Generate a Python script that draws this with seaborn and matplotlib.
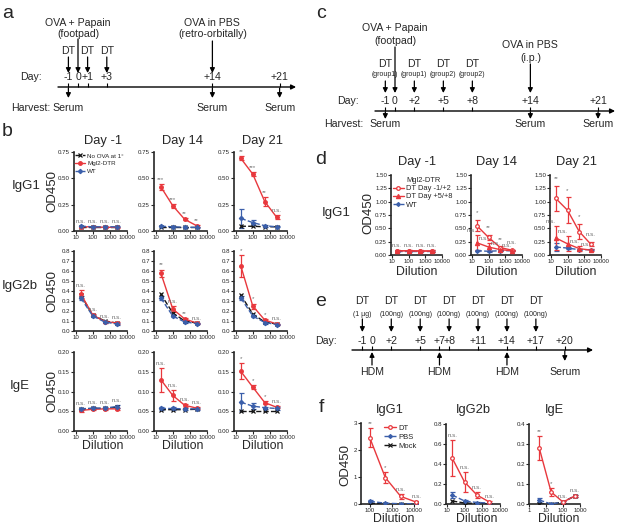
import numpy as np
import matplotlib
matplotlib.use("Agg")
import matplotlib.pyplot as plt
from matplotlib.lines import Line2D
from matplotlib.ticker import NullLocator
import seaborn as sns

sns.set_style("ticks")
plt.rcParams['font.family'] = ['Liberation Sans', 'DejaVu Sans']

W, H = 617, 526
RED = "#e8383d"
BLUE = "#3b5faa"
BLACK = "#151515"
GREY = "#6e6e6e"

# ---------------- timelines (days) ----------------
a_days = [-1, 0, 1, 3, 14, 21]
a_day_labels = ["-1", "0", "+1", "+3", "+14", "+21"]
a_dt_days = [-1, 1, 3]
a_harvest_days = [-1, 14, 21]

c_days = [-1, 0, 2, 5, 8, 14, 21]
c_day_labels = ["-1", "0", "+2", "+5", "+8", "+14", "+21"]
c_dt_days = [-1, 2, 5, 8]
c_dt_groups = ["(group1)", "(group1)", "(group2)", "(group2)"]
c_harvest_days = [-1, 14, 21]

e_days = [-1, 0, 2, 5, 7, 8, 11, 14, 17, 20]
e_day_labels = ["-1", "0", "+2", "+5", "+7", "+8", "+11", "+14", "+17", "+20"]
e_dt_days = [-1, 2, 5, 8, 11, 14, 17]
e_dt_doses = ["(1 µg)", "(100ng)", "(100ng)", "(100ng)", "(100ng)", "(100ng)", "(100ng)"]
e_hdm_days = [0, 7, 14]
e_serum_day = 20

# ---------------- panel b (dilution 1:20 .. 1:2500) ----------------
b_dil = [20, 100, 500, 2500]
b_cols = ["Day -1", "Day 14", "Day 21"]
b_rows = ["IgG1", "IgG2b", "IgE"]

igg1_noova = [[0.04, 0.04, 0.04, 0.04], [0.04, 0.04, 0.04, 0.04], [0.045, 0.045, 0.04, 0.04]]
igg1_dtr = [[0.04, 0.04, 0.035, 0.035], [0.42, 0.24, 0.11, 0.05], [0.69, 0.54, 0.28, 0.13]]
igg1_dtr_err = [[0.005, 0.005, 0.005, 0.005], [0.03, 0.02, 0.01, 0.01], [0.02, 0.02, 0.04, 0.02]]
igg1_wt = [[0.045, 0.04, 0.04, 0.04], [0.045, 0.04, 0.035, 0.035], [0.12, 0.08, 0.05, 0.04]]
igg1_wt_err = [[0.005, 0.005, 0.005, 0.005], [0.005, 0.005, 0.005, 0.005], [0.09, 0.02, 0.01, 0.005]]
igg1_marks = [["n.s.", "n.s.", "n.s.", "n.s."], ["***", "***", "**", "**"], ["**", "***", "**", "n.s."]]

igg2b_noova = [[0.36, 0.16, 0.10, 0.08], [0.37, 0.18, 0.10, 0.08], [0.36, 0.17, 0.09, 0.07]]
igg2b_dtr = [[0.37, 0.16, 0.095, 0.08], [0.58, 0.22, 0.12, 0.08], [0.65, 0.25, 0.11, 0.07]]
igg2b_dtr_err = [[0.04, 0.01, 0.01, 0.01], [0.035, 0.03, 0.01, 0.005], [0.11, 0.025, 0.01, 0.005]]
igg2b_wt = [[0.33, 0.15, 0.09, 0.07], [0.33, 0.15, 0.09, 0.075], [0.33, 0.15, 0.085, 0.065]]
igg2b_wt_err = [[0.02, 0.01, 0.01, 0.01], [0.02, 0.01, 0.01, 0.005], [0.02, 0.01, 0.01, 0.005]]
igg2b_marks = [["n.s.", "n.s.", "n.s.", "n.s."], ["**", "n.s.", "**", "n.s."], ["*", "*", "*", "n.s."]]

ige_noova = [[0.055, 0.057, 0.057, 0.06], [0.054, 0.054, 0.054, 0.055], [0.05, 0.05, 0.05, 0.05]]
ige_dtr = [[0.052, 0.055, 0.056, 0.056], [0.13, 0.09, 0.065, 0.058], [0.151, 0.111, 0.072, 0.06]]
ige_dtr_err = [[0.003, 0.003, 0.003, 0.003], [0.03, 0.013, 0.004, 0.003], [0.02, 0.005, 0.003, 0.003]]
ige_wt = [[0.056, 0.058, 0.058, 0.062], [0.057, 0.057, 0.056, 0.056], [0.073, 0.063, 0.059, 0.057]]
ige_wt_err = [[0.003, 0.003, 0.003, 0.003], [0.003, 0.003, 0.003, 0.003], [0.022, 0.008, 0.003, 0.003]]
ige_marks = [["n.s.", "n.s.", "n.s.", "n.s."], ["n.s.", "n.s.", "n.s.", "n.s."], ["*", "*", "*", "n.s."]]

# ---------------- panel d ----------------
d_dil = [20, 100, 500, 2500]
d_early = [[0.08, 0.08, 0.075, 0.075], [0.55, 0.33, 0.14, 0.09], [1.06, 0.84, 0.44, 0.2]]
d_early_err = [[0.01, 0.01, 0.01, 0.01], [0.1, 0.04, 0.02, 0.01], [0.24, 0.24, 0.14, 0.04]]
d_late = [[0.08, 0.08, 0.075, 0.075], [0.23, 0.15, 0.1, 0.08], [0.32, 0.21, 0.12, 0.09]]
d_late_err = [[0.01, 0.01, 0.01, 0.01], [0.14, 0.08, 0.03, 0.01], [0.23, 0.14, 0.04, 0.02]]
d_wt = [[0.07, 0.07, 0.07, 0.07], [0.08, 0.07, 0.08, 0.08], [0.15, 0.13, 0.1, 0.1]]
d_wt_err = [[0.005, 0.005, 0.005, 0.005], [0.01, 0.01, 0.01, 0.01], [0.08, 0.02, 0.01, 0.01]]
d_early_marks = [["n.s.", "n.s.", "n.s.", "n.s."], ["*", "**", "**", "n.s."], ["**", "*", "*", "n.s."]]
d_late_marks = [["", "", "", ""], ["n.s.", "n.s.", "n.s.", "n.s."], ["n.s.", "n.s.", "n.s.", "n.s."]]

# ---------------- panel f ----------------
f_titles = ["IgG1", "IgG2b", "IgE"]
f_dil = [[100, 500, 2500, 12500], [20, 100, 500, 2500], [4, 20, 100, 500]]
f_dt = [[2.45, 0.98, 0.28, 0.07], [0.46, 0.22, 0.09, 0.02], [0.28, 0.06, 0.01, 0.04]]
f_dt_err = [[0.35, 0.22, 0.1, 0.03], [0.18, 0.1, 0.03, 0.01], [0.06, 0.02, 0.003, 0.005]]
f_pbs = [[0.1, 0.03, 0.01, 0.01], [0.09, 0.03, 0.015, 0.01], [0.02, 0.0, 0.01, 0.04]]
f_pbs_err = [[0.03, 0.01, 0.005, 0.005], [0.03, 0.01, 0.005, 0.003], [0.01, 0.003, 0.003, 0.005]]
f_mock = [[0.02, 0.01, 0.0, 0.0], [0.03, 0.01, 0.005, 0.0], [0.0, 0.0, 0.01, 0.04]]
f_marks = [["**", "*", "n.s.", "n.s."], ["n.s.", "n.s.", "n.s.", "n.s."], ["**", "*", "n.s.", "n.s."]]

fig = plt.figure(figsize=(W / 100, H / 100), dpi=100)


def rect(l, t, r, b):
    return [l / W, 1 - b / H, (r - l) / W, (b - t) / H]


def ftext(x, y, s, **kw):
    kw.setdefault("ha", "center")
    kw.setdefault("va", "center")
    fig.text(x / W, 1 - y / H, s, **kw)


# ---------- timeline helpers ----------
def timeline(x0, x1, y0, y1, day0_px, px_day):
    ax = fig.add_axes(rect(x0, y0, x1, y1))
    ax.set_xlim((x0 - day0_px) / px_day, (x1 - day0_px) / px_day)
    ax.set_ylim(y1, y0)
    ax.axis("off")
    return ax


def arrow(ax, x0, y0, x1, y1, lw=0.9):
    ax.annotate("", xy=(x1, y1), xytext=(x0, y0),
                arrowprops=dict(arrowstyle="-|>", color="black", lw=lw,
                                mutation_scale=7, shrinkA=0, shrinkB=0),
                annotation_clip=False)


TL = 7.6
SM = 5.0


def axis_line(ax, yline, days, labels, ylab):
    lo, hi = ax.get_xlim()
    arrow(ax, lo, yline, hi - 0.2, yline, lw=1.0)
    ax.vlines(days, yline - 4, yline, color="black", lw=0.8)
    for d, s in zip(days, labels):
        ax.text(d, ylab, s, ha="center", va="center", fontsize=TL)


# panel a
ax = timeline(58, 298, 10, 118, 78, 9.6)
axis_line(ax, 87, a_days, a_day_labels, 77)
for d in a_dt_days:
    ax.text(d, 51, "DT", ha="center", va="center", fontsize=TL)
    arrow(ax, d, 57, d, 73)
ax.text(0, 23, "OVA + Papain", ha="center", va="center", fontsize=TL)
ax.text(0, 34, "(footpad)", ha="center", va="center", fontsize=TL)
arrow(ax, 0, 39, 0, 73)
ax.text(14, 23, "OVA in PBS", ha="center", va="center", fontsize=TL)
ax.text(14, 34, "(retro-orbitally)", ha="center", va="center", fontsize=TL)
arrow(ax, 14, 41, 14, 73)
for d in a_harvest_days:
    arrow(ax, d, 88, d, 98)
    ax.text(d, 108, "Serum", ha="center", va="center", fontsize=TL)
ftext(42, 77, "Day:", ha="right", fontsize=TL)
ftext(50, 108, "Harvest:", ha="right", fontsize=TL)

# panel c
ax = timeline(375, 617, 15, 130, 395, 9.67)
axis_line(ax, 111, c_days, c_day_labels, 101)
for d, g in zip(c_dt_days, c_dt_groups):
    ax.text(d, 64, "DT", ha="center", va="center", fontsize=TL)
    ax.text(d, 75, g, ha="center", va="center", fontsize=SM)
    arrow(ax, d, 81, d, 93)
ax.text(0, 28, "OVA + Papain", ha="center", va="center", fontsize=TL)
ax.text(0, 41, "(footpad)", ha="center", va="center", fontsize=TL)
arrow(ax, 0, 47, 0, 93)
ax.text(14, 45, "OVA in PBS", ha="center", va="center", fontsize=TL)
ax.text(14, 58, "(i.p.)", ha="center", va="center", fontsize=TL)
arrow(ax, 14, 64, 14, 93)
for d in c_harvest_days:
    arrow(ax, d, 112, d, 119)
    ax.text(d, 124, "Serum", ha="center", va="center", fontsize=TL)
ftext(359, 101, "Day:", ha="right", fontsize=TL)
ftext(363, 124, "Harvest:", ha="right", fontsize=TL)

# panel e
ax = timeline(352, 595, 295, 380, 372, 9.64)
axis_line(ax, 350, e_days, e_day_labels, 341)
for d, g in zip(e_dt_days, e_dt_doses):
    ax.text(d, 301, "DT", ha="center", va="center", fontsize=TL)
    ax.text(d, 314, g, ha="center", va="center", fontsize=SM)
    arrow(ax, d, 319, d, 332)
for d in e_hdm_days:
    arrow(ax, d, 365, d, 352)
    ax.text(d, 372, "HDM", ha="center", va="center", fontsize=TL)
arrow(ax, e_serum_day, 351, e_serum_day, 361)
ax.text(e_serum_day, 372, "Serum", ha="center", va="center", fontsize=TL)
ftext(337, 341, "Day:", ha="right", fontsize=TL)


# ---------- curve helpers ----------
def style_axes(ax, xlim, xticks, ylim, yticks, yfmt):
    ax.set_xscale("log")
    ax.set_xlim(xlim)
    ax.set_xticks(xticks)
    ax.set_xticklabels([str(v) for v in xticks])
    ax.xaxis.set_minor_locator(NullLocator())
    ax.set_ylim(ylim)
    ax.set_yticks(yticks)
    ax.set_yticklabels([yfmt.format(v) for v in yticks])
    ax.tick_params(labelsize=4.4, length=2, width=0.8, pad=0.8)
    sns.despine(ax=ax)
    for s in ("left", "bottom"):
        ax.spines[s].set_linewidth(1.2)
    ax.set_xlabel("")
    ax.set_ylabel("")


def curve(ax, x, y, err, color, marker, ls, mfc=None, ms=3):
    if err is not None:
        ax.errorbar(x, y, yerr=err, fmt="none", ecolor=color, elinewidth=0.9,
                    capsize=1.8, capthick=0.9, zorder=2)
    sns.lineplot(x=x, y=y, ax=ax, color=color, marker=marker, linestyle=ls,
                 lw=1.0, markersize=ms, markeredgecolor=color,
                 markerfacecolor=mfc if mfc else color, markeredgewidth=0.9,
                 errorbar=None, zorder=3)
    return ax.lines[-1]


def marks(ax, x, tops, labels, ymax, xshift=1.0, gap=0.025):
    for xi, t, s in zip(x, tops, labels):
        if s:
            ax.text(xi * xshift, t + gap * ymax, s, ha="center", va="bottom",
                    fontsize=4.5, color=GREY, clip_on=False)


# panel b
b_lefts = [74, 154, 234]
b_tb = [(152, 231), (251, 331), (352, 431)]
b_label_x = [26, 20, 20]
b_sets = [
    (igg1_noova, igg1_dtr, igg1_dtr_err, igg1_wt, igg1_wt_err, igg1_marks, 0.75, [0, 0.25, 0.5, 0.75], "{:.2f}"),
    (igg2b_noova, igg2b_dtr, igg2b_dtr_err, igg2b_wt, igg2b_wt_err, igg2b_marks, 0.8, list(np.arange(0, 0.81, 0.1)), "{:.1f}"),
    (ige_noova, ige_dtr, ige_dtr_err, ige_wt, ige_wt_err, ige_marks, 0.2, [0, 0.05, 0.1, 0.15, 0.2], "{:.2f}"),
]
for r, (noova, dtr, dtr_e, wt, wt_e, mk, ymax, yt, fmt) in enumerate(b_sets):
    t, b = b_tb[r]
    for c in range(3):
        ax = fig.add_axes(rect(b_lefts[c], t, b_lefts[c] + 53, b))
        h1 = curve(ax, b_dil, noova[c], None, BLACK, "x", "--", ms=3)
        h2 = curve(ax, b_dil, dtr[c], dtr_e[c], RED, "o", "-", ms=2.6)
        h3 = curve(ax, b_dil, wt[c], wt_e[c], BLUE, "D", "--", ms=2.2)
        style_axes(ax, (8, 10000), [10, 100, 1000, 10000], (0, ymax), yt, fmt)
        tops = np.maximum(np.array(dtr[c]) + np.array(dtr_e[c]), np.array(wt[c]) + np.array(wt_e[c]))
        marks(ax, b_dil, tops, mk[c], ymax)
        if r == 0 and c == 0:
            ax.legend([h1, h2, h3], ["No OVA at 1°", "Mgl2-DTR", "WT"], loc="upper left",
                      frameon=False, fontsize=4.5, handlelength=1.6, handletextpad=0.3,
                      labelspacing=0.35, borderaxespad=0.1, borderpad=0.1)
        if r == 0:
            ftext(b_lefts[c] + 29, 141, b_cols[c], fontsize=9.3)
        if r == 2:
            ftext(b_lefts[c] + 29, 446, "Dilution", fontsize=8.8)
    ftext(52, (t + b) / 2, "OD450", rotation=90, fontsize=9.5)
    ftext(b_label_x[r], (t + b) / 2 - 5, b_rows[r], fontsize=9.5)

# panel d
d_lefts = [391, 471, 550]
for c in range(3):
    ax = fig.add_axes(rect(d_lefts[c], 175, d_lefts[c] + 51, 255))
    h3 = curve(ax, d_dil, d_wt[c], d_wt_err[c], BLUE, "D", "--", ms=2.0)
    h1 = curve(ax, d_dil, d_early[c], d_early_err[c], RED, "o", "-", mfc="white", ms=2.6)
    h2 = curve(ax, d_dil, d_late[c], d_late_err[c], RED, "^", "-", ms=3)
    style_axes(ax, (9, 10000), [10, 100, 1000, 10000], (0, 1.5),
               [0, 0.25, 0.5, 0.75, 1.0, 1.25, 1.5], "{:.2f}")
    marks(ax, d_dil, np.array(d_early[c]) + np.array(d_early_err[c]), d_early_marks[c], 1.5,
          gap=0.025 if c == 0 else 0.06)
    marks(ax, d_dil, np.array(d_late[c]) + np.array(d_late_err[c]), d_late_marks[c], 1.5, xshift=0.5)
    if c == 0:
        blank = Line2D([], [], alpha=0)
        ax.legend([blank, h1, h2, h3], ["Mgl2-DTR", "DT Day -1/+2", "DT Day +5/+8", "WT"],
                  loc="upper left", frameon=False, fontsize=5.4, handlelength=1.5,
                  handletextpad=0.3, labelspacing=0.15, borderaxespad=0.1, borderpad=0.1)
    ftext(d_lefts[c] + 26, 162, b_cols[c], fontsize=9.3)
    ftext(d_lefts[c] + 26, 272, "Dilution", fontsize=8.8)
ftext(368, 213, "OD450", rotation=90, fontsize=9.5)
ftext(336, 213, "IgG1", fontsize=9.5)

# panel f
f_boxes = [(361, 423, 418, 504), (446, 424, 500, 504), (529, 424, 580, 504)]
f_xlims = [(40, 15000), (9, 10000), (1, 1000)]
f_xticks = [[100, 1000, 10000], [10, 100, 1000, 10000], [1, 10, 100, 1000]]
f_ylims = [3, 0.8, 0.4]
f_yticks = [[0, 1, 2, 3], [0, 0.2, 0.4, 0.6, 0.8], [0, 0.1, 0.2, 0.3, 0.4]]
f_fmts = ["{:.0f}", "{:.1f}", "{:.1f}"]
for c in range(3):
    ax = fig.add_axes(rect(*f_boxes[c]))
    h3 = curve(ax, f_dil[c], f_mock[c], None, BLACK, "x", "--", ms=3)
    h2 = curve(ax, f_dil[c], f_pbs[c], f_pbs_err[c], BLUE, "D", "--", ms=2.0)
    h1 = curve(ax, f_dil[c], f_dt[c], f_dt_err[c], RED, "o", "-", mfc="white", ms=2.6)
    style_axes(ax, f_xlims[c], f_xticks[c], (0, f_ylims[c]), f_yticks[c], f_fmts[c])
    marks(ax, f_dil[c], np.array(f_dt[c]) + np.array(f_dt_err[c]), f_marks[c], f_ylims[c])
    if c == 0:
        ax.legend([h1, h2, h3], ["DT", "PBS", "Mock"], loc="upper right",
                  frameon=False, fontsize=5.5, handlelength=1.6, handletextpad=0.3,
                  labelspacing=0.2, borderaxespad=0.1, borderpad=0.1)
    cx = (f_boxes[c][0] + f_boxes[c][2]) / 2
    ftext(cx, 410, f_titles[c], fontsize=9.3)
    ftext(cx + 4, 519, "Dilution", fontsize=8.8)
ftext(345, 465, "OD450", rotation=90, fontsize=9.5)

# panel letters
for s, x, y in [("a", 8, 13), ("b", 7, 132), ("c", 321, 13), ("d", 321, 160), ("e", 321, 302), ("f", 321, 407)]:
    ftext(x, y, s, fontsize=14)

fig.savefig("out.png", dpi=100)
